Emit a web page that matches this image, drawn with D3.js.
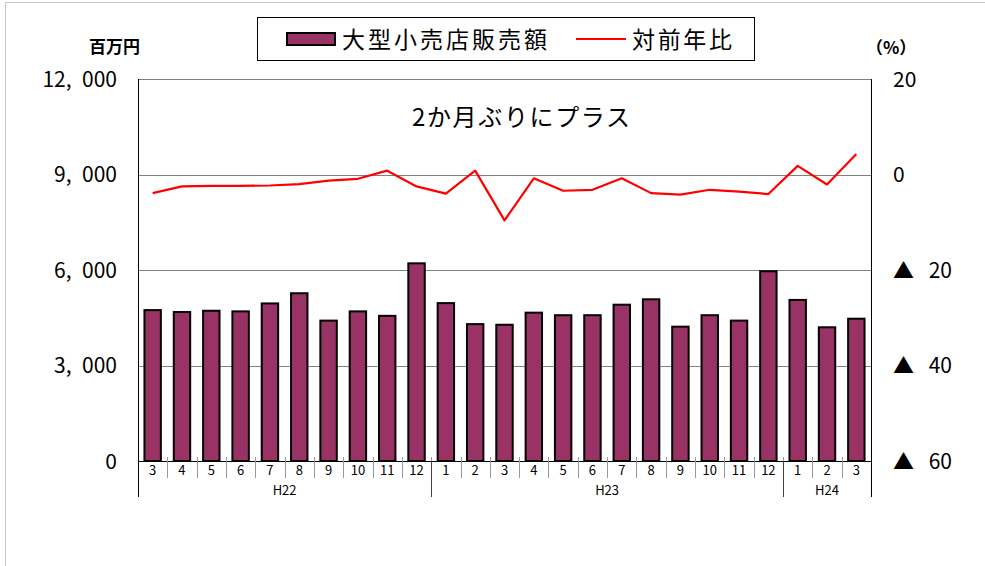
<!DOCTYPE html>
<html>
<head>
<meta charset="utf-8">
<script src="https://cdn.jsdelivr.net/npm/d3@7"></script>
<style>
  body { margin: 0; background: #fff; }
  text { font-family: "Noto Sans CJK JP", "Noto Sans", sans-serif; fill: #000; }
</style>
</head>
<body>
<div id="chart"></div>
<script>
// data
const months = [3, 4, 5, 6, 7, 8, 9, 10, 11, 12, 1, 2, 3, 4, 5, 6, 7, 8, 9, 10, 11, 12, 1, 2, 3];
const yearLabels = ["H22", "H23", "H24"];
const yearCounts = [10, 12, 3];
const sales = [4740, 4680, 4720, 4700, 4950, 5270, 4410, 4700, 4560, 6210,
               4960, 4300, 4280, 4660, 4580, 4580, 4910, 5080, 4220, 4580, 4410, 5960,
               5060, 4200, 4470];
const yoy = [-3.9, -2.5, -2.4, -2.4, -2.3, -2.0, -1.3, -0.9, 0.8, -2.5,
             -4.0, 0.8, -9.6, -0.8, -3.4, -3.2, -0.8, -3.9, -4.2, -3.2, -3.6, -4.1,
             1.8, -2.1, 4.3];
const leftTicks = [0, 3000, 6000, 9000, 12000];
const rightTicks = [-60, -40, -20, 0, 20];

//layout
const W = 985, H = 566;
const plotL = 138, plotR = 871, plotT = 79, plotB = 461;

const svg = d3.select("#chart").append("svg")
  .attr("width", W)
  .attr("height", H);

//outer frame
svg.append("rect")
  .attr("x", 5.5).attr("y", 2.5)
  .attr("width", W + 20).attr("height", H + 20)
  .attr("fill", "none")
  .attr("stroke", "#c8c8c8");

//scales
const idx = d3.range(months.length);
const x = d3.scaleBand().domain(idx).range([plotL, plotR]).padding(0);
const yL = d3.scaleLinear().domain([0, 12000]).range([plotB, plotT]);
const yR = d3.scaleLinear().domain([-60, 20]).range([plotB, plotT]);

//gridlines
svg.append("g").selectAll("line")
  .data(leftTicks.filter(d => d > 0))
  .join("line")
  .attr("x1", plotL).attr("x2", plotR)
  .attr("y1", d => Math.round(yL(d)) + 0.5)
  .attr("y2", d => Math.round(yL(d)) + 0.5)
  .attr("stroke", "#808080")
  .attr("stroke-width", 1);

//bars
const barW = x.bandwidth() * 0.56;
svg.append("g").selectAll("rect")
  .data(sales)
  .join("rect")
  .attr("x", (d, i) => x(i) + (x.bandwidth() - barW) / 2)
  .attr("y", d => yL(d))
  .attr("width", barW)
  .attr("height", d => plotB - yL(d))
  .attr("fill", "#993366")
  .attr("stroke", "#000")
  .attr("stroke-width", 2);

//axes lines
svg.append("line")
  .attr("x1", plotL + 0.5).attr("x2", plotL + 0.5)
  .attr("y1", plotT).attr("y2", plotB + 36)
  .attr("stroke", "#000");
svg.append("line")
  .attr("x1", plotR + 0.5).attr("x2", plotR + 0.5)
  .attr("y1", plotT).attr("y2", plotB + 36)
  .attr("stroke", "#000");
svg.append("line")
  .attr("x1", plotL).attr("x2", plotR + 1)
  .attr("y1", plotB + 0.5).attr("y2", plotB + 0.5)
  .attr("stroke", "#000");

//left axis
const fmtL = d => d3.format(",")(d).replace(",", ",\u2002");
const axL = svg.append("g")
  .attr("transform", `translate(${plotL},0)`)
  .call(d3.axisLeft(yL).tickValues(leftTicks).tickSize(0).tickPadding(21).tickFormat(fmtL));
axL.select(".domain").remove();
axL.selectAll("text")
  .style("font-size", "21px")
  .attr("dy", "0.35em");

//right axis
const fmtR = d => d < 0 ? "▲\u2002\u2009" + Math.abs(d) : String(d);
const axR = svg.append("g")
  .attr("transform", `translate(${plotR},0)`)
  .call(d3.axisRight(yR).tickValues(rightTicks).tickSize(0).tickPadding(22).tickFormat(fmtR));
axR.select(".domain").remove();
axR.selectAll("text")
  .style("font-size", "21px")
  .attr("dy", "0.35em");

//line
const line = d3.line()
  .x((d, i) => x(i) + x.bandwidth() / 2)
  .y(d => yR(d));
svg.append("path")
  .datum(yoy)
  .attr("d", line)
  .attr("fill", "none")
  .attr("stroke", "#ff0000")
  .attr("stroke-width", 2.2)
  .attr("stroke-linejoin", "round");

//category separators and month labels
svg.append("g").selectAll("line")
  .data(idx.slice(1))
  .join("line")
  .attr("x1", d => Math.round(x(d)) + 0.5)
  .attr("x2", d => Math.round(x(d)) + 0.5)
  .attr("y1", plotB - 4).attr("y2", plotB + 17)
  .attr("stroke", "#999");
svg.append("g").selectAll("text")
  .data(months)
  .join("text")
  .attr("x", (d, i) => x(i) + x.bandwidth() / 2)
  .attr("y", plotB + 14)
  .attr("text-anchor", "middle")
  .style("font-size", "13px")
  .text(d => d);

//year groups
let start = 0;
yearLabels.forEach((lab, k) => {
  const end = start + yearCounts[k];
  const x0 = x(start), x1 = end < months.length ? x(end) : plotR;
  if (end < months.length) {
    svg.append("line")
      .attr("x1", Math.round(x1) + 0.5).attr("x2", Math.round(x1) + 0.5)
      .attr("y1", plotB).attr("y2", plotB + 36)
      .attr("stroke", "#444");
  }
  svg.append("text")
    .attr("x", (x0 + x1) / 2)
    .attr("y", plotB + 34)
    .attr("text-anchor", "middle")
    .style("font-size", "13px")
    .text(lab);
  start = end;
});

//unit labels
svg.append("text")
  .attr("x", 89).attr("y", 53)
  .style("font-size", "17px")
  .style("font-weight", "bold")
  .text("百万円");
svg.append("text")
  .attr("x", 866).attr("y", 54)
  .style("font-size", "17px")
  .style("font-weight", "bold")
  .text("（%）");

//title
svg.append("text")
  .attr("x", 412).attr("y", 126)
  .style("font-size", "24px")
  .attr("textLength", 218)
  .text("2か月ぶりにプラス");

//legend
const legend = svg.append("g");
legend.append("rect")
  .attr("x", 257.5).attr("y", 17.5)
  .attr("width", 497).attr("height", 43)
  .attr("fill", "#fff")
  .attr("stroke", "#000");
legend.append("rect")
  .attr("x", 287).attr("y", 33)
  .attr("width", 48).attr("height", 12)
  .attr("fill", "#993366")
  .attr("stroke", "#000")
  .attr("stroke-width", 2);
legend.append("text")
  .attr("x", 342).attr("y", 48)
  .style("font-size", "23px")
  .attr("textLength", 205)
  .text("大型小売店販売額");
legend.append("line")
  .attr("x1", 576).attr("x2", 626)
  .attr("y1", 39).attr("y2", 39)
  .attr("stroke", "#ff0000")
  .attr("stroke-width", 2.2);
legend.append("text")
  .attr("x", 632).attr("y", 48)
  .style("font-size", "23px")
  .attr("textLength", 100)
  .text("対前年比");
</script>
</body>
</html>
